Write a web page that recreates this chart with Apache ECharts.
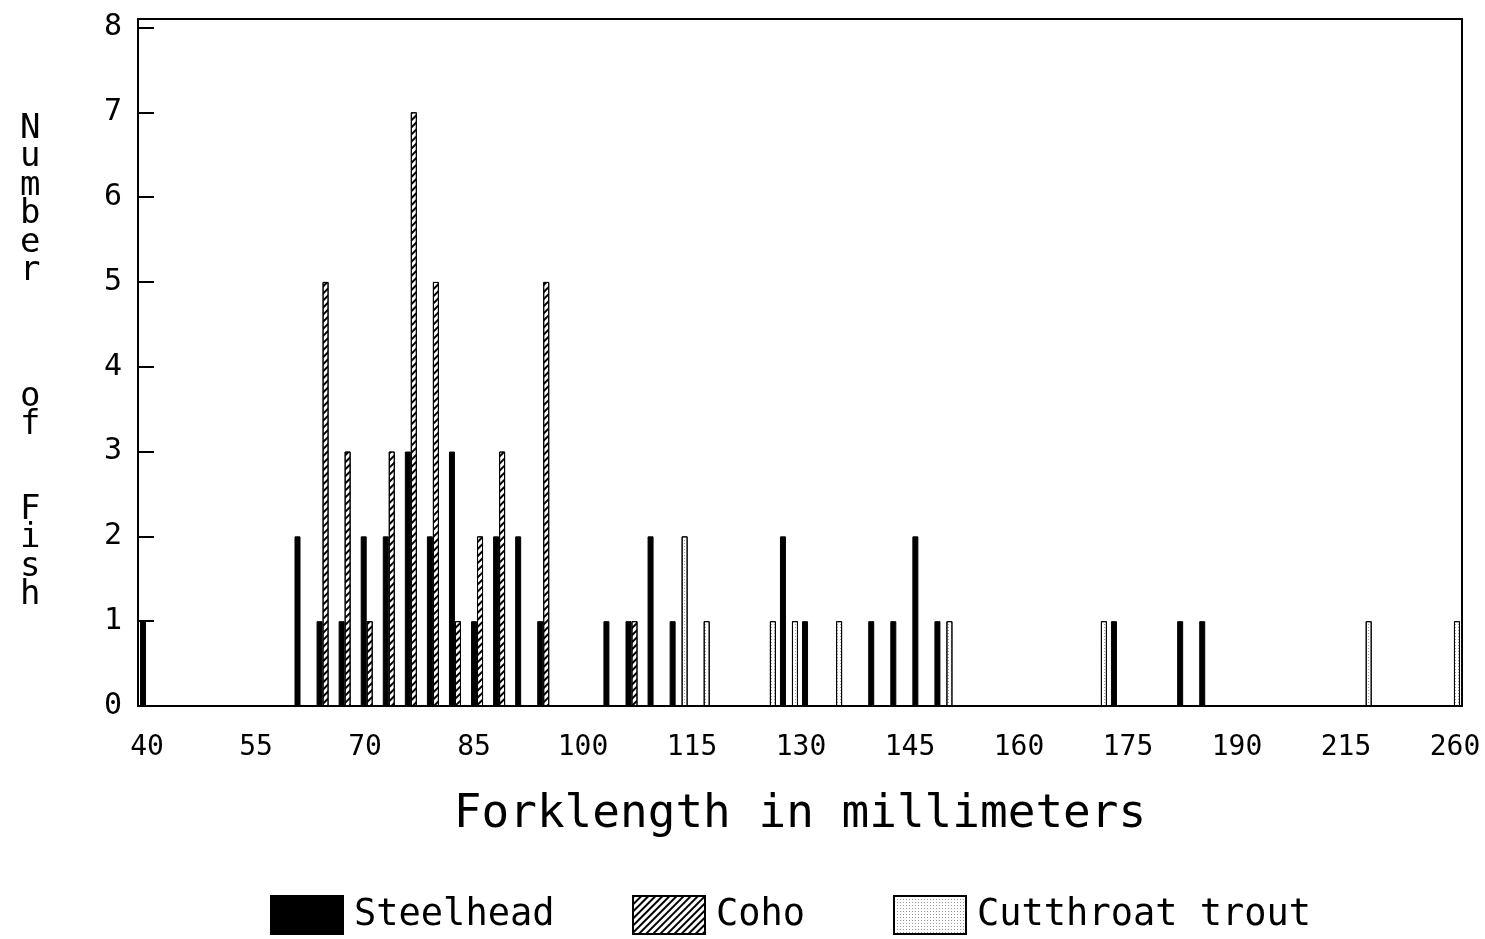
<!DOCTYPE html>
<html>
<head>
<meta charset="utf-8">
<script src="https://cdn.jsdelivr.net/npm/echarts@6/dist/echarts.min.js"></script>
<style>
  html, body { margin: 0; padding: 0; background: #fff; }
  #chart { width: 1485px; height: 939px; }
</style>
</head>
<body>
<div id="chart"></div>
<script>
// tick labels shown under the x axis (evenly spaced in the original)
const tickLabels = ['40', '55', '70', '85', '100', '115', '130', '145', '160', '175', '190', '215', '260']

// fork lengths (mm) and counts per species
const steelheadLengths = [40, 61, 64, 67, 70, 73, 76, 79, 82, 85, 88, 91, 94, 103, 106, 109, 112, 127, 130, 139, 142, 145, 148, 172, 181, 184]
const steelheadCounts  = [1,  2,  1,  1,  2,  2,  3,  2,  3,  1,  2,  2,  1,  1,   1,   2,   1,   2,   1,   1,   1,   2,   1,   1,   1,   1]

const cohoLengths = [64, 67, 70, 73, 76, 79, 82, 85, 88, 94, 106]
const cohoCounts  = [5,  3,  1,  3,  7,  5,  1,  2,  3,  5,  1]

const cutthroatLengths = [112, 115, 124, 127, 133, 148, 169, 215, 260]
const cutthroatCounts  = [2,   1,   1,   1,   1,   1,   1,   1,   1]

// category slots: one per mm from 40 to 190, then a compressed run up to 215 and 260
let categories = ['39']
for (let mm = 40; mm <= 190; mm++) categories.push(String(mm))
for (let k = 1; k < 15; k++) categories.push('190~' + k)
categories.push('215')
for (let k = 1; k < 12; k++) categories.push('215~' + k)
categories.push('260')
categories.push('261')

function toData(lengths, counts) {
    return lengths.map((len, i) => [String(len), counts[i]])
}

const FONT = 'DejaVu Sans Mono'

let chart = echarts.init(document.getElementById('chart'))

let option = {
    animation: false,
    backgroundColor: '#fff',
    grid: [
        { left: 138, right: 23, top: 19, bottom: 233, show: true, borderColor: '#000', borderWidth: 2 },
        // helper grid that only carries the evenly spaced tick labels
        { left: 147, right: 30, top: 19, bottom: 233 }
    ],
    legend: [
        { data: ['Steelhead'], left: 270 },
        { data: ['Coho'], left: 632 },
        { data: ['Cutthroat trout'], left: 893 }
    ].map(l => Object.assign(l, {
        bottom: 4, padding: 0,
        itemWidth: 72, itemHeight: 38, icon: 'rect',
        textStyle: { fontFamily: FONT, fontSize: 37, color: '#000', padding: [0, 0, 0, 6] }
    })),
    xAxis: [
        {
            type: 'category',
            gridIndex: 0,
            data: categories,
            boundaryGap: true,
            axisLine: { show: true, lineStyle: { color: '#000', width: 2 } },
            axisTick: { show: false },
            axisLabel: { show: false },
            name: 'Forklength in millimeters',
            nameLocation: 'middle',
            nameGap: 86,
            nameTextStyle: { fontFamily: FONT, fontSize: 46, color: '#000' }
        },
        {
            type: 'value',
            gridIndex: 1,
            min: 0, max: tickLabels.length - 1, interval: 1,
            axisLine: { show: false },
            axisTick: { show: false },
            splitLine: { show: false },
            axisLabel: {
                formatter: v => tickLabels[v],
                fontFamily: FONT, fontSize: 28, color: '#000', margin: 28
            }
        }
    ],
    yAxis: [
        {
            type: 'value',
            gridIndex: 0,
            min: 0, max: 8.1, interval: 1,
            axisLine: { show: true, lineStyle: { color: '#000', width: 2 } },
            axisTick: { show: true, inside: true, length: 16, lineStyle: { color: '#000', width: 2 } },
            axisLabel: {
                formatter: v => Number.isInteger(v) ? String(v) : '',
                fontFamily: FONT, fontSize: 30, color: '#000', margin: 16
            },
            splitLine: { show: false }
        },
        { type: 'value', gridIndex: 1, show: false }
    ],
    graphic: [
        { text: 'N\nu\nm\nb\ne\nr', y: 112 },
        { text: 'o\nf', y: 380 },
        { text: 'F\ni\ns\nh', y: 493 }
    ].map(t => ({
        type: 'text', left: 20, top: t.y,
        style: { text: t.text, font: '34px ' + FONT, fill: '#000', lineHeight: 28.5, align: 'center' }
    })),
    series: [
        {
            name: 'Steelhead', type: 'bar', barWidth: 6, barGap: '0%',
            itemStyle: { color: '#000', borderColor: '#000', borderWidth: 1 },
            data: toData(steelheadLengths, steelheadCounts)
        },
        {
            name: 'Coho', type: 'bar', barWidth: 6, barGap: '0%',
            itemStyle: {
                color: '#fff', borderColor: '#000', borderWidth: 1,
                decal: { symbol: 'rect', symbolSize: 1, dashArrayX: [1, 0], dashArrayY: [2, 3], rotation: -Math.PI / 4, color: '#000' }
            },
            data: toData(cohoLengths, cohoCounts)
        },
        {
            name: 'Cutthroat trout', type: 'bar', barWidth: 6, barGap: '0%',
            itemStyle: {
                color: '#fff', borderColor: '#000', borderWidth: 1,
                decal: { symbol: 'rect', symbolSize: 1, dashArrayX: [1, 2], dashArrayY: [1, 2], color: '#999' }
            },
            data: toData(cutthroatLengths, cutthroatCounts)
        }
    ]
}

chart.setOption(option)
</script>
</body>
</html>
